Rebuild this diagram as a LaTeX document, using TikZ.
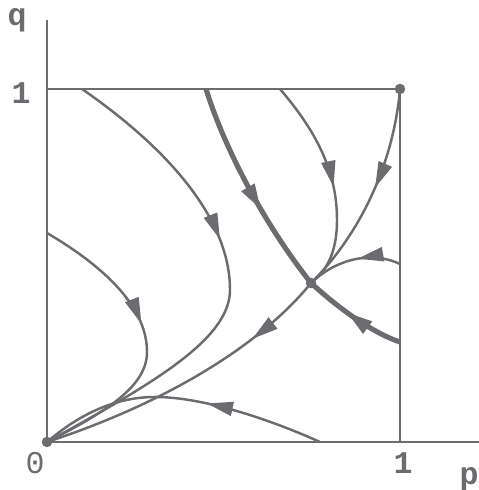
\documentclass[tikz,border=0pt]{standalone}
\usepackage{fontspec}
\setmonofont{Liberation Mono}
\usetikzlibrary{arrows.meta, decorations.markings}
\definecolor{ink}{RGB}{108,108,112}
\tikzset{
    frame/.style={draw, color=ink, line width=1.7pt},
    box/.style={draw, color=ink, line width=1.35pt},
    orbit/.style={draw, color=ink, line width=1.4pt},
    sep/.style={draw, color=ink, line width=2.9pt},
    fixpt/.style={circle, fill=ink, inner sep=0pt, minimum size=0.21cm},
    lbl/.style={text=ink, inner sep=0pt, anchor=base, font=\fontsize{18}{20}\selectfont\ttfamily\bfseries},
    flow/.style={postaction={decorate}, decoration={markings,
        mark=at position #1 with {\arrow{Triangle[length=0.52cm, width=0.28cm]}}}}
}

\begin{document}
\begin{tikzpicture}[x=0.02cm, y=-0.02cm]
    \useasboundingbox (0,0) rectangle (479,490);
    \node[fixpt] (O) at (47,442) {};
    \node[fixpt] (S) at (311,283) {};
    \node[fixpt] (E) at (400,89) {};
    \coordinate (qend) at (47,20);
    \coordinate (pend) at (479,442);
    \coordinate (Q1) at (47,89);
    \coordinate (P1) at (400,442);
    \coordinate (a0) at (47,233);
    \coordinate (b0) at (82,89);
    \coordinate (c0) at (206,89);
    \coordinate (d0) at (400,342);
    \coordinate (f0) at (400,264);
    \coordinate (g0) at (280,89);
    \coordinate (i0) at (320,442);

    \draw[frame] (O.center) -- (qend);
    \draw[frame] (O.center) -- (pend);
    \draw[box] (Q1) -- (E.center) -- (P1);

    \draw[orbit, flow=0.44] (a0) .. controls (110,270) and (147,310) .. (147,352)
        .. controls (147,385) and (110,410) .. (O.center);
    \draw[orbit, flow=0.41] (b0) .. controls (170,150) and (230,220) .. (230,290)
        .. controls (230,340) and (150,385) .. (O.center);
    \draw[sep, flow=0.6] (c0) .. controls (225,150) and (265,225) .. (S.center);
    \draw[sep, flow=0.57] (d0) .. controls (370,332) and (335,305) .. (S.center);
    \draw[orbit, flow=0.26] (S.center) .. controls (265,340) and (175,400) .. (O.center);
    \draw[orbit, flow=0.45] (f0) .. controls (370,250) and (335,260) .. (S.center);
    \draw[orbit, flow=0.52] (g0) .. controls (315,130) and (337,170) .. (337,220)
        .. controls (337,255) and (325,272) .. (S.center);
    \draw[orbit, flow=0.47] (E.center) .. controls (393,170) and (355,240) .. (S.center);
    \draw[orbit, flow=0.41] (i0) .. controls (260,415) and (195,396) .. (152,397)
        .. controls (110,398) and (75,418) .. (O.center);

    \node[lbl] (qlab) at (17,26) {q};
    \node[lbl] (q1lab) at (21,103) {1};
    \node[lbl, font=\fontsize{18}{20}\selectfont\ttfamily] (zlab) at (35,473) {0};
    \node[lbl] (p1lab) at (403,473) {1};
    \node[lbl] (plab) at (469,484) {p};
\end{tikzpicture}
\end{document}
